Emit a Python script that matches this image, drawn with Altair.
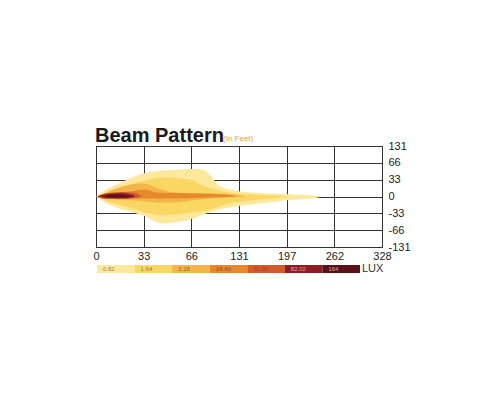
import altair as alt
import pandas as pd

# Axis tick labels (grid positions 0..6 horizontally, -3..3 vertically)
x_labels = ["0", "33", "66", "131", "197", "262", "328"]
y_labels = ["-131", "-66", "-33", "0", "33", "66", "131"]

# Lux levels and colours
lux_levels = ["0.82", "1.64", "3.28", "14.40", "32.80", "82.02", "164"]
lux_colors = ["#FDE89C", "#FAD662", "#F4B448", "#E6892C", "#D25A2B", "#8C1D25", "#5A1019"]
lux_text_colors = ["#9C8448", "#9C7E36", "#9A6A2A", "#8E4A1C", "#B03A26", "#E2A6A6", "#D7A7AA"]

# Beam contour outlines (grid units): x, upper edge, lower edge for each level
beam_x = [
    [0, 0.19, 0.42, 0.71, 0.99, 1.41, 1.76, 2.10, 2.31, 2.43, 2.58, 2.79, 3.27, 3.96, 4.66, 4.70],
    [0.02, 0.25, 0.69, 1.41, 1.95, 2.31, 2.79, 3.23, 3.65, 4.03],
    [0.04, 0.42, 0.99, 1.26, 1.62, 2.18, 2.73, 3.13],
    [0.04, 0.29, 0.69, 1.05, 1.26, 2.10, 2.73, 2.92],
    [0.02, 0.19, 0.55, 0.84, 0.96],
    [0.04, 0.25, 0.55, 0.76, 0.82],
    [0.13, 0.29, 0.50, 0.65, 0.71],
]
beam_top = [
    [0, 0.38, 0.70, 1.07, 1.37, 1.55, 1.61, 1.63, 1.49, 1.15, 0.65, 0.42, 0.24, 0.15, 0.03, 0.01],
    [0, 0.30, 0.68, 1.13, 1.01, 0.56, 0.24, 0.12, 0.06, 0.01],
    [0, 0.48, 0.77, 0.54, 0.24, 0.18, 0.15, 0.01],
    [0, 0.18, 0.30, 0.42, 0.24, 0.18, 0.12, 0.01],
    [0, 0.18, 0.27, 0.21, 0.01],
    [0, 0.16, 0.21, 0.12, 0.01],
    [0, 0.09, 0.10, 0.05, 0.01],
]
beam_bot = [
    [0, -0.36, -0.65, -0.89, -1.13, -1.61, -1.49, -1.25, -1.01, -0.89, -0.77, -0.65, -0.48, -0.24, -0.06, -0.01],
    [0, -0.30, -0.65, -1.13, -0.95, -0.83, -0.42, -0.24, -0.12, -0.02],
    [0, -0.18, -0.27, -0.36, -0.36, -0.18, -0.06, -0.02],
    [0, -0.12, -0.12, -0.12, -0.12, -0.09, -0.03, -0.01],
    [0, -0.15, -0.15, -0.09, -0.02],
    [0, -0.09, -0.11, -0.06, -0.02],
    [0, -0.05, -0.05, -0.03, -0.01],
]

x_expr = "[" + ",".join(f"'{s}'" for s in x_labels) + "][datum.value]"
y_expr = "[" + ",".join(f"'{s}'" for s in y_labels) + "][datum.value + 3]"

x_enc = alt.X("x:Q", scale=alt.Scale(domain=[0, 6], nice=False, zero=False),
              axis=alt.Axis(values=list(range(7)), labelExpr=x_expr, title=None,
                            grid=True, gridColor="#333333", gridWidth=1, ticks=False,
                            domain=False, labelFontSize=11, labelColor="#222222",
                            labelPadding=3, labelFont="Liberation Sans",
                            labelOverlap=False, labelFlush=False))
y_enc = alt.Y("top:Q", scale=alt.Scale(domain=[-3, 3], nice=False, zero=False),
              axis=alt.Axis(values=list(range(-3, 4)), labelExpr=y_expr, title=None,
                            orient="right", grid=True, gridColor="#333333", gridWidth=1,
                            ticks=False, domain=False, labelFontSize=11, labelColor="#222222",
                            labelPadding=6, labelAlign="left", labelFont="Liberation Sans",
                            labelOverlap=False, labelFlush=False))

area_layers = []
for lvl in range(len(beam_x)):
    df = pd.DataFrame({"x": beam_x[lvl], "top": beam_top[lvl], "bot": beam_bot[lvl]})
    area_layers.append(
        alt.Chart(df).mark_area(interpolate="monotone", color=lux_colors[lvl]).encode(
            x=x_enc, y=y_enc, y2="bot:Q"
        )
    )
beam = alt.layer(*area_layers)

leg_df = pd.DataFrame({
    "i": list(range(7)),
    "i2": list(range(1, 8)),
    "lab": lux_levels,
    "fill": lux_colors,
    "tc": lux_text_colors,
})
leg_scale = alt.Scale(domain=[0, 7], range=[1, 264], nice=False, zero=False)

leg_rect = alt.Chart(leg_df).mark_rect().encode(
    x=alt.X("i:Q", scale=leg_scale, axis=None),
    x2="i2:Q",
    y=alt.value(119),
    y2=alt.value(127),
    color=alt.Color("fill:N", scale=None),
)
leg_text = alt.Chart(leg_df).mark_text(align="left", baseline="middle", dx=6, fontSize=6,
                                       font="Liberation Sans").encode(
    x=alt.X("i:Q", scale=leg_scale, axis=None),
    y=alt.value(123),
    text="lab:N",
    color=alt.Color("tc:N", scale=None),
)
lux_df = pd.DataFrame({"i": [7], "t": ["LUX"]})
lux_text = alt.Chart(lux_df).mark_text(align="left", baseline="middle", dx=2, fontSize=11,
                                       font="Liberation Sans", color="#333333").encode(
    x=alt.X("i:Q", scale=leg_scale, axis=None),
    y=alt.value(123),
    text="t:N",
)
legend = alt.layer(leg_rect, leg_text, lux_text)

title = alt.Chart(pd.DataFrame({"t": ["Beam Pattern"]})).mark_text(
    align="left", baseline="alphabetic", fontSize=20, fontWeight="bold",
    font="Liberation Sans", color="#1a1a1a").encode(
    x=alt.value(-1), y=alt.value(-4), text="t:N")
subtitle = alt.Chart(pd.DataFrame({"t": ["(In Feet)"]})).mark_text(
    align="left", baseline="alphabetic", fontSize=8,
    font="Liberation Sans", color="#E8A33A").encode(
    x=alt.value(127), y=alt.value(-5), text="t:N")

chart = alt.layer(beam, legend, title, subtitle).resolve_scale(
    x="independent"
).properties(
    width=286, height=101,
    autosize=alt.AutoSizeParams(type="none"),
    padding={"left": 88, "top": 138, "right": 100, "bottom": 140},
    background="white",
).configure_view(stroke="#333333", strokeWidth=1)

chart.save("out.html", embed_options={"renderer": "svg", "actions": False})
